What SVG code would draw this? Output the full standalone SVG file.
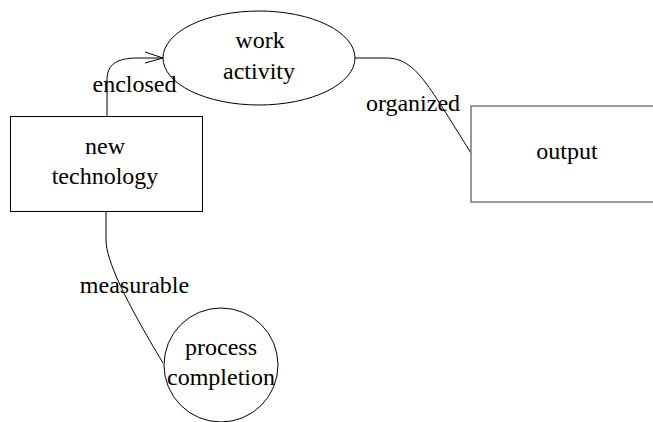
<svg xmlns="http://www.w3.org/2000/svg" width="653" height="422" viewBox="0 0 653 422">
<style>
text{font-family:"Liberation Serif","Times New Roman",serif;font-size:24px;fill:#000;text-anchor:middle}
.n{fill:#fff;stroke:#000;stroke-width:1}
.g{fill:#fff;stroke:#777;stroke-width:1.5}
.e{fill:none;stroke:#000;stroke-width:1}
</style>
<rect width="653" height="422" fill="#fff"/>
<g id="connectors">
<path class="e" d="M107,116 L107,80 C107,64 117,58 138,58 L162,58"/>
<polyline class="e" points="145,52 163,58 145,63"/>
<path class="e" d="M355,58 L385,58 C415,58 425,80 471,153"/>
<path class="e" d="M106,211 L106,240 C106,260 125,300 163,363"/>
</g>
<g id="new-technology">
<rect class="n" x="10.5" y="116.5" width="192" height="95"/>
<text x="105" y="154">new</text>
<text x="105" y="184">technology</text>
</g>
<g id="work-activity">
<ellipse class="n" cx="259" cy="58" rx="96" ry="47"/>
<text x="260" y="48">work</text>
<text x="259" y="79">activity</text>
</g>
<g id="output">
<rect class="g" x="471" y="106" width="192" height="96"/>
<text x="567" y="159">output</text>
</g>
<g id="process-completion">
<circle class="n" cx="221" cy="365" r="57"/>
<text x="221" y="355">process</text>
<text x="221" y="385">completion</text>
</g>
<g id="labels">
<text x="134.5" y="92">enclosed</text>
<text x="413" y="111">organized</text>
<text x="134.5" y="293">measurable</text>
</g>
</svg>
